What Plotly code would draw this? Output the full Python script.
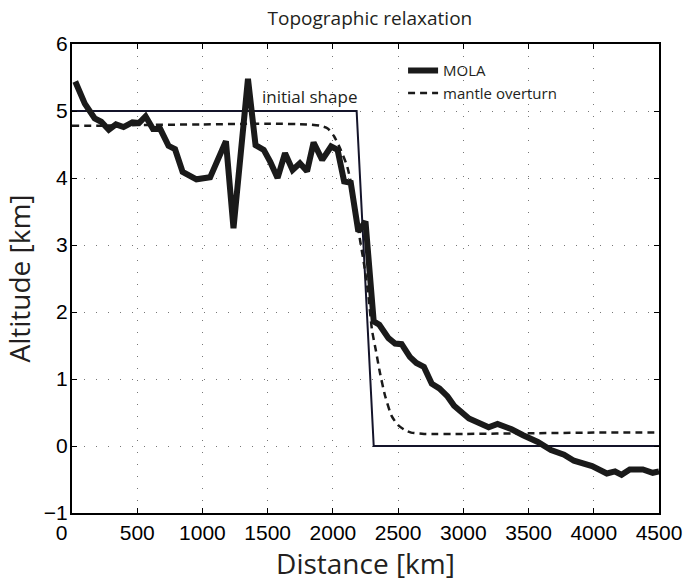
import plotly.graph_objects as go

# MOLA profile (distance km, altitude km)
mola_x = [25, 98, 174, 224, 282, 337, 395, 463, 513, 564, 621, 677, 740, 790, 848, 954, 1059,
          1180, 1238, 1349, 1407, 1470, 1520, 1576, 1633, 1691, 1747, 1802, 1852, 1918, 1986,
          2036, 2086, 2137, 2195, 2250, 2313, 2356, 2426, 2477, 2527, 2590, 2640, 2698, 2758,
          2816, 2879, 2929, 3043, 3118, 3194, 3262, 3370, 3458, 3571, 3672, 3772, 3848, 3987,
          4100, 4163, 4213, 4276, 4376, 4452, 4500]
mola_y = [5.44, 5.11, 4.89, 4.84, 4.72, 4.80, 4.76, 4.83, 4.82, 4.92, 4.73, 4.73, 4.48, 4.43,
          4.09, 3.98, 4.01, 4.55, 3.25, 5.48, 4.49, 4.42, 4.24, 4.00, 4.37, 4.12, 4.22, 4.10,
          4.53, 4.27, 4.47, 4.42, 3.95, 3.93, 3.20, 3.35, 1.86, 1.81, 1.61, 1.53, 1.52, 1.33,
          1.24, 1.18, 0.93, 0.86, 0.74, 0.60, 0.41, 0.34, 0.28, 0.33, 0.25, 0.16, 0.06, -0.06,
          -0.13, -0.22, -0.30, -0.41, -0.38, -0.43, -0.35, -0.35, -0.40, -0.38]

# Mantle overturn model
mantle_x = [0, 200, 500, 1000, 1500, 1800, 1900, 1960, 2010, 2060, 2110, 2160, 2200, 2240,
            2270, 2300, 2330, 2360, 2400, 2450, 2500, 2550, 2600, 2700, 3000, 3500, 4000, 4500]
mantle_y = [4.78, 4.78, 4.79, 4.80, 4.81, 4.80, 4.78, 4.74, 4.62, 4.42, 4.17, 3.72, 3.17, 2.70,
            2.28, 1.73, 1.42, 1.10, 0.75, 0.45, 0.31, 0.24, 0.20, 0.18, 0.18, 0.19, 0.20, 0.20]

# Initial shape
init_x = [0, 2182, 2313, 4500]
init_y = [5, 5, 0, 0]

x_ticks = [0, 500, 1000, 1500, 2000, 2500, 3000, 3500, 4000, 4500]
x_labels = ["0\u2002\u2002", "500", "1000", "1500", "2000", "2500", "3000", "3500", "4000", "4500"]
y_ticks = [-1, 0, 1, 2, 3, 4, 5, 6]
y_labels = ["\u22121", "0", "1", "2", "3", "4", "5", "6"]

TICKFONT = dict(family="Liberation Sans, Arial, sans-serif", size=21, color="black")
TEXTFONT = "Open Sans, Noto Sans, sans-serif"
TXT = "#231f20"

fig = go.Figure()
fig.add_trace(go.Scatter(x=init_x, y=init_y, mode="lines", showlegend=False,
                         line=dict(color="#14142a", width=2)))
fig.add_trace(go.Scatter(x=mola_x, y=mola_y, mode="lines", name="MOLA",
                         line=dict(color="#1a1a1a", width=6)))
fig.add_trace(go.Scatter(x=mantle_x, y=mantle_y, mode="lines", name="mantle overturn",
                         line=dict(color="#1a1a1a", width=2.5, dash="7px,5px", shape="spline", smoothing=0.6)))

fig.add_annotation(x=1440, y=5.22, text="initial shape", showarrow=False, xanchor="left",
                   yanchor="middle", font=dict(family=TEXTFONT, size=17, color=TXT))

axis_common = dict(showline=True, linewidth=2, linecolor="black", mirror="ticks",
                   ticks="inside", ticklen=5, tickwidth=1, tickcolor="black",
                   showgrid=True, gridcolor="#777", gridwidth=1, griddash="1px,11px",
                   zeroline=False, tickfont=TICKFONT)

fig.update_xaxes(range=[0, 4500], tickvals=x_ticks, ticktext=x_labels,
                 title=dict(text="Distance [km]", font=dict(family=TEXTFONT, size=28, color=TXT),
                            standoff=6),
                 **axis_common)
fig.update_yaxes(range=[-1, 6], tickvals=y_ticks, ticktext=y_labels, ticklabelstandoff=-2,
                 title=dict(text="Altitude [km]", font=dict(family=TEXTFONT, size=28, color=TXT),
                            standoff=6),
                 **axis_common)

fig.update_layout(
    width=694, height=584, autosize=False,
    margin=dict(l=72, r=26, t=44, b=71),
    plot_bgcolor="white", paper_bgcolor="white",
    title=dict(text="Topographic relaxation", x=0.533, xanchor="center", y=0.968, yanchor="middle",
               font=dict(family=TEXTFONT, size=19, color=TXT)),
    legend=dict(x=0.564, y=0.978, xanchor="left", yanchor="top", bgcolor="rgba(0,0,0,0)",
                font=dict(family=TEXTFONT, size=15, color=TXT), tracegroupgap=0),
)

fig.write_html("out.html")
